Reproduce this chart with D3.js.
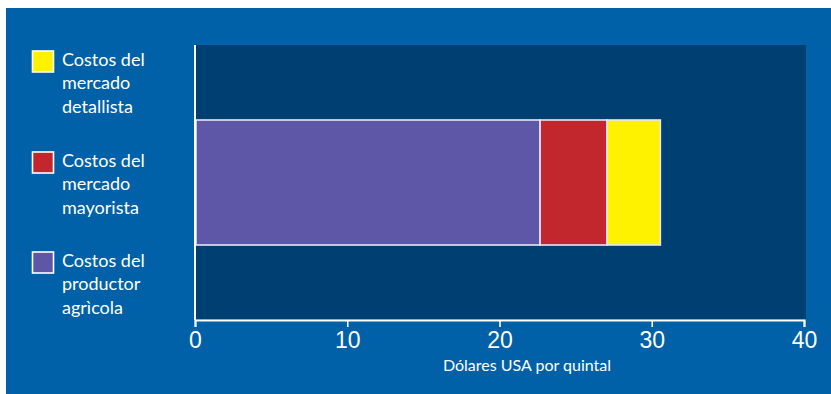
<!DOCTYPE html>
<html>
<head>
<meta charset="utf-8">
<script src="https://cdn.jsdelivr.net/npm/d3@7"></script>
<style>
  html, body { margin: 0; padding: 0; background: #ffffff; }
  svg { display: block; }
</style>
</head>
<body>
<svg id="chart" width="831" height="394"></svg>
<script>
// Cost components per quintal, stacked left to right
const categories = ["Costos del productor agrìcola", "Costos del mercado mayorista", "Costos del mercado detallista"];
const values = [22.6, 4.4, 3.5];
const colors = ["#5e56a6", "#c1272d", "#fff200"];
// Legend lines (top to bottom: detallista, mayorista, productor)
const legendLines = [
  ["Costos del", "mercado", "detallista"],
  ["Costos del", "mercado", "mayorista"],
  ["Costos del", "productor", "agrìcola"]
];
const legendColorIndex = [2, 1, 0];
const xTicks = [0, 10, 20, 30, 40];
const xTitle = "Dólares USA por quintal";

const svg = d3.select("#chart");

// Panel background
svg.append("rect").attr("x", 6).attr("y", 8).attr("width", 825).attr("height", 386).attr("fill", "#0061a8");

const x = d3.scaleLinear().domain([0, 40]).range([195, 804]);
const y = d3.scaleBand().domain(["bar"]).range([45, 320]).paddingInner(0).paddingOuter(0.6);

// Plot area
svg.append("rect")
  .attr("x", x(0) + 1).attr("y", 45)
  .attr("width", x(40) - x(0) + 1).attr("height", 274)
  .attr("fill", "#003f72");

// Stacked segments
let acc = 0;
const segs = values.map((v, i) => { const s = { x0: acc, x1: acc + v, color: colors[i] }; acc += v; return s; });
svg.append("g").selectAll("rect").data(segs).join("rect")
  .attr("x", d => x(d.x0) + 1)
  .attr("y", y("bar"))
  .attr("width", d => x(d.x1) - x(d.x0))
  .attr("height", y.bandwidth())
  .attr("fill", d => d.color)
  .attr("stroke", "#e6e6f2")
  .attr("stroke-width", 1.6);

// Left axis line
svg.append("line")
  .attr("x1", x(0)).attr("x2", x(0)).attr("y1", 45).attr("y2", 320)
  .attr("stroke", "#ffffff").attr("stroke-width", 2);

// Bottom axis
const xAxis = svg.append("g")
  .attr("transform", "translate(0,320)")
  .call(d3.axisBottom(x).tickValues(xTicks).tickSize(7).tickPadding(5).tickFormat(d3.format("d")));
xAxis.select(".domain").attr("stroke", "#ffffff").attr("stroke-width", 2);
xAxis.selectAll(".tick line").attr("stroke", "#ffffff").attr("stroke-width", 1.6);
xAxis.selectAll(".tick text")
  .attr("fill", "#ffffff")
  .style("font-family", "'Liberation Sans', Arial, sans-serif")
  .style("font-size", "23px");

svg.append("text")
  .attr("x", 527).attr("y", 371)
  .attr("text-anchor", "middle")
  .attr("fill", "#ffffff")
  .style("font-family", "Lato, 'Open Sans', sans-serif")
  .style("font-size", "16px")
  .text(xTitle);

// Legend
const lg = svg.append("g").selectAll("g").data(legendLines).join("g")
  .attr("transform", (d, i) => `translate(0,${[66, 167, 267][i]})`);
lg.append("rect")
  .attr("x", 32.5).attr("y", -15)
  .attr("width", 21).attr("height", 21)
  .attr("fill", (d, i) => colors[legendColorIndex[i]])
  .attr("stroke", "#ffffff").attr("stroke-width", 1.6);
lg.append("text")
  .attr("fill", "#ffffff")
  .style("font-family", "Lato, 'Open Sans', sans-serif")
  .style("font-size", "18px")
  .selectAll("tspan").data(d => d).join("tspan")
  .attr("x", 62)
  .attr("y", (d, j) => j * 23.3)
  .text(d => d);
</script>
</body>
</html>
